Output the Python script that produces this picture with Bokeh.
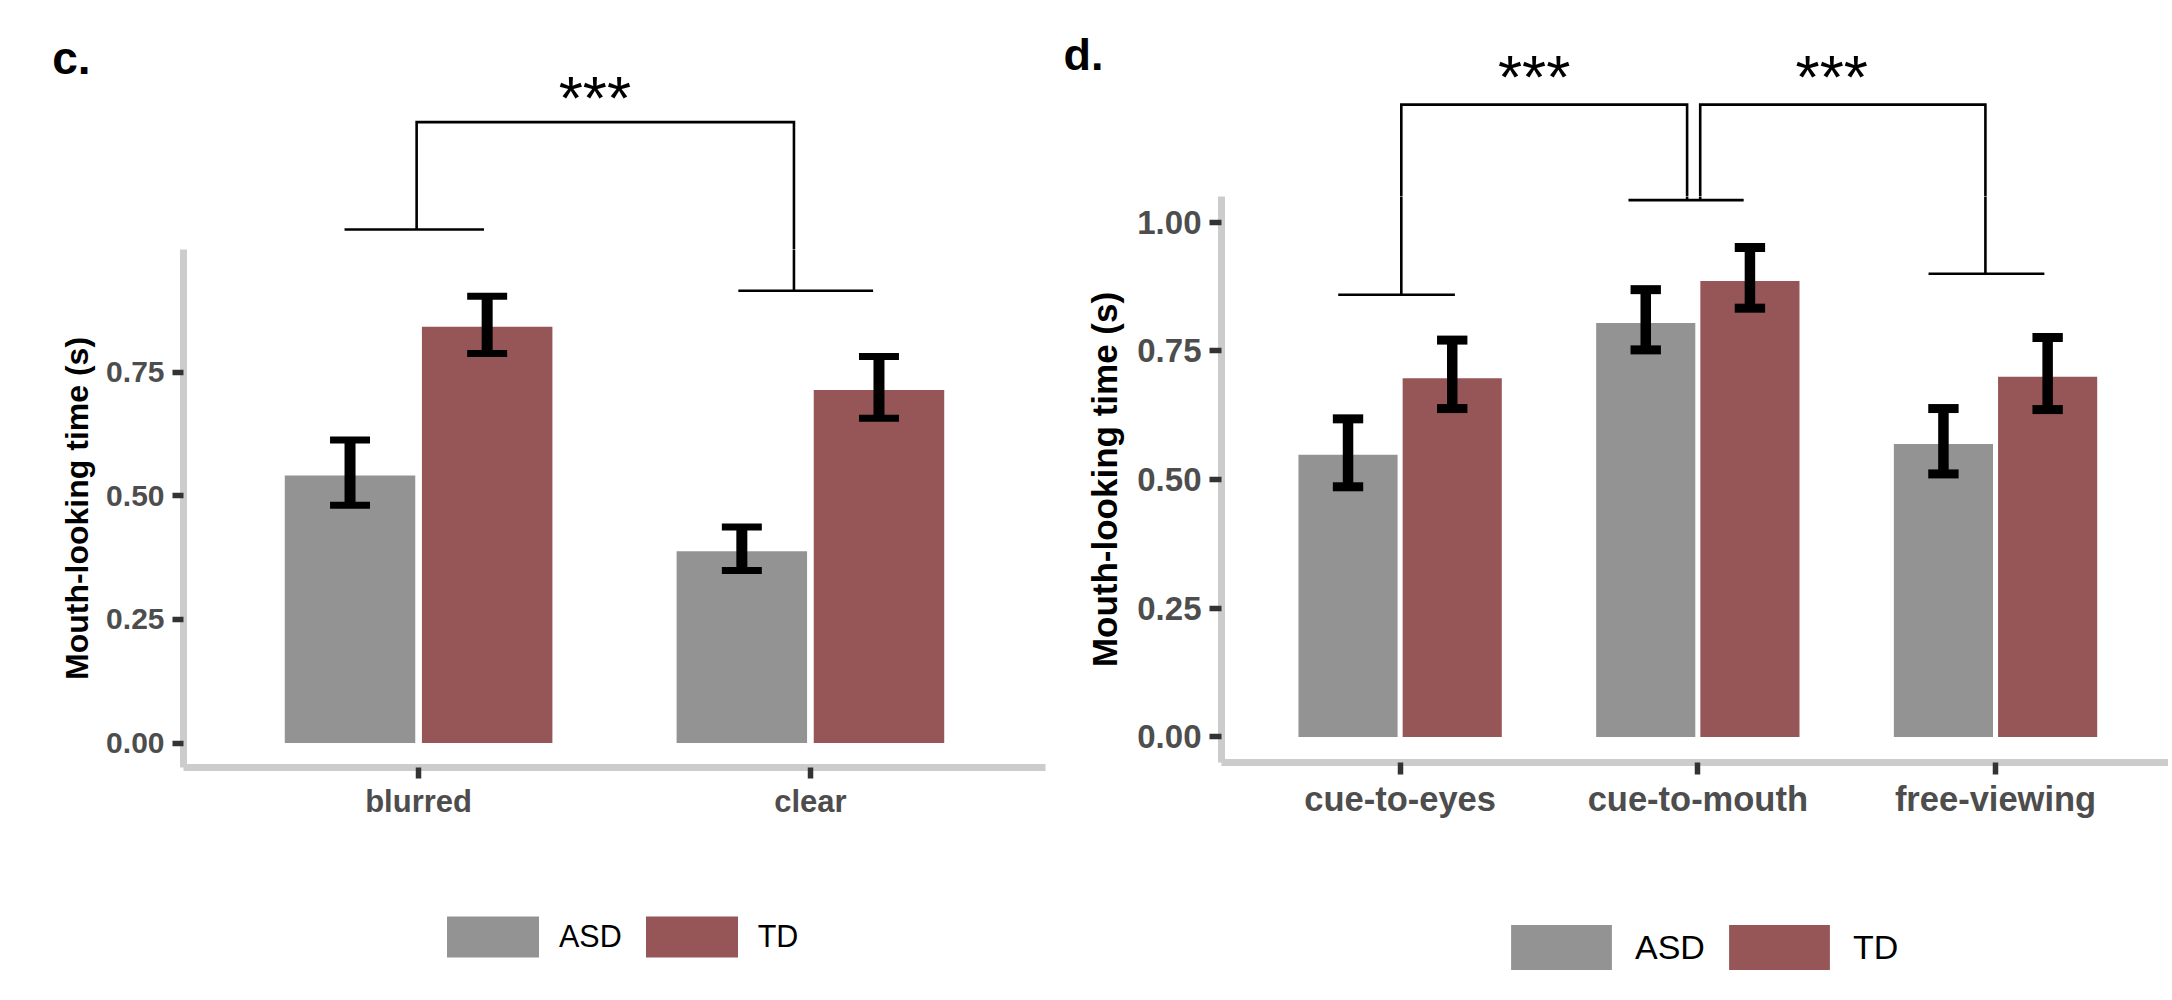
from bokeh.plotting import figure
from bokeh.models import (Range1d, FixedTicker, NumeralTickFormatter,
                          Legend, LegendItem, ColumnDataSource)
from bokeh.layouts import row, column
from bokeh.embed import file_html
from bokeh.resources import INLINE
from bokeh.core.properties import value

# ---------------- data ----------------
groups = ["ASD", "TD"]
group_colors = ["#939393", "#965557"]

c_conditions = ["blurred", "clear"]
c_asd_mean = [0.541, 0.388]
c_asd_lo = [0.481, 0.349]
c_asd_hi = [0.613, 0.437]
c_td_mean = [0.842, 0.714]
c_td_lo = [0.788, 0.657]
c_td_hi = [0.904, 0.782]

d_conditions = ["cue-to-eyes", "cue-to-mouth", "free-viewing"]
d_asd_mean = [0.548, 0.804, 0.569]
d_asd_lo = [0.486, 0.752, 0.511]
d_asd_hi = [0.618, 0.869, 0.638]
d_td_mean = [0.697, 0.886, 0.700]
d_td_lo = [0.638, 0.833, 0.636]
d_td_hi = [0.771, 0.951, 0.776]

c_ticks = [0.0, 0.25, 0.5, 0.75]
d_ticks = [0.0, 0.25, 0.5, 0.75, 1.0]
y_title = "Mouth-looking time (s)"
sig_label = "***"

FONT = "Liberation Sans"


def base_fig(cfg, height, yr, bt=0, bb=0, y_axis=None):
    p = figure(width=cfg["W"], height=height, title=None,
               x_range=Range1d(*cfg["xr"]), y_range=Range1d(*yr),
               output_backend="svg", toolbar_location=None,
               x_axis_type=None, y_axis_type=y_axis,
               min_border_left=cfg["bl"], min_border_right=cfg["br"],
               min_border_top=bt, min_border_bottom=bb)
    p.outline_line_color = None
    p.grid.visible = False
    return p


def draw_brackets(p, cfg):
    p.multi_line(xs=[b[0] for b in cfg["brackets"]],
                 ys=[b[1] for b in cfg["brackets"]],
                 line_color="black", line_width=2.6, line_join="miter")


def make_main(conditions, series, ticks, cfg):
    p = figure(width=cfg["W"], height=cfg["H"], title=None,
               x_range=Range1d(*cfg["xr"]), y_range=Range1d(*cfg["yr"]),
               output_backend="svg", toolbar_location=None,
               min_border_left=cfg["bl"], min_border_right=cfg["br"],
               min_border_top=0, min_border_bottom=cfg["bb"])
    p.outline_line_color = None
    p.grid.visible = False

    bw = 0.333
    off = 0.175
    for gi, (mean, lo, hi) in enumerate(series):
        xs = [i + 1 + (gi * 2 - 1) * off for i in range(len(conditions))]
        src = ColumnDataSource(dict(x=xs, top=mean, lo=lo, hi=hi,
                                    x0=[x - 0.051 for x in xs],
                                    x1=[x + 0.051 for x in xs]))
        p.vbar(x="x", top="top", bottom=0, width=bw, source=src,
               fill_color=group_colors[gi], line_color=None)
        p.segment(x0="x", y0="lo", x1="x", y1="hi", source=src,
                  line_color="black", line_width=cfg["ev"])
        p.segment(x0="x0", y0="lo", x1="x1", y1="lo", source=src,
                  line_color="black", line_width=cfg["ec"])
        p.segment(x0="x0", y0="hi", x1="x1", y1="hi", source=src,
                  line_color="black", line_width=cfg["ec"])

    draw_brackets(p, cfg)

    for ax in (p.xaxis[0], p.yaxis[0]):
        ax.axis_line_color = "#cccccc"
        ax.axis_line_width = 7
        ax.major_tick_line_color = "#333333"
        ax.major_tick_line_width = 5.5
        ax.major_tick_in = 0
        ax.major_tick_out = cfg["tick_out"]
        ax.minor_tick_line_color = None
        ax.major_label_text_font = FONT
        ax.major_label_text_font_style = "bold"
        ax.major_label_text_color = "#4d4d4d"
    p.yaxis.major_label_text_font_size = cfg["ytick_fs"]
    p.xaxis.major_label_text_font_size = cfg["xtick_fs"]
    p.yaxis.ticker = FixedTicker(ticks=ticks)
    p.yaxis.formatter = NumeralTickFormatter(format="0.00")
    p.yaxis.major_label_standoff = 8
    p.yaxis.axis_label = y_title
    p.yaxis.axis_label_text_font = FONT
    p.yaxis.axis_label_text_font_style = "bold"
    p.yaxis.axis_label_text_font_size = cfg["title_fs"]
    p.yaxis.axis_label_text_color = "black"
    p.yaxis.axis_label_standoff = cfg["title_stand"]
    p.xaxis.ticker = FixedTicker(ticks=[i + 1 for i in range(len(conditions))])
    p.xaxis.major_label_overrides = {i + 1: c for i, c in enumerate(conditions)}
    p.xaxis.major_label_standoff = cfg["xstand"]
    return p


def make_top(cfg):
    p = base_fig(cfg, cfg["Ht"], cfg["yr_top"], y_axis="linear")
    draw_brackets(p, cfg)
    for sx, sy in cfg["stars"]:
        p.text(x=[sx], y=[sy], text=[sig_label], text_align="center",
               text_baseline="alphabetic", text_font=value(FONT),
               text_font_size=value(cfg["star_fs"]), text_color="black")
    # panel letter, drawn as the only label of an otherwise hidden axis
    ax = p.yaxis[0]
    ax.axis_line_color = None
    ax.major_tick_line_color = None
    ax.minor_tick_line_color = None
    ax.major_tick_in = 0
    ax.major_tick_out = 0
    ax.ticker = FixedTicker(ticks=[cfg["letter_y"]])
    ax.major_label_overrides = {cfg["letter_y"]: cfg["letter"]}
    ax.major_label_standoff = cfg["letter_stand"]
    ax.major_label_text_font = FONT
    ax.major_label_text_font_style = "bold"
    ax.major_label_text_font_size = cfg["letter_fs"]
    ax.major_label_text_color = "black"
    return p


def make_legend(cfg):
    p = base_fig(cfg, cfg["Hl"], (0, 1))
    items = []
    for g, col in zip(groups, group_colors):
        # zero-height proxy bar: only its legend swatch is visible
        src = ColumnDataSource(dict(x=[1.0], top=[0.0], label=[g]))
        r = p.vbar(x="x", top="top", bottom=0, width=0.0, source=src,
                   fill_color=col, line_color=None)
        items.append(LegendItem(label=g, renderers=[r]))
    legend = Legend(items=items, location=cfg["leg_loc"],
                    orientation="horizontal",
                    glyph_width=cfg["gw"], glyph_height=cfg["gh"],
                    label_standoff=cfg["lstand"], spacing=cfg["lspace"],
                    padding=0, margin=0, border_line_color=None,
                    background_fill_alpha=0,
                    label_text_font=FONT, label_text_font_size=cfg["leg_fs"],
                    label_text_color="black")
    p.add_layout(legend)
    return p


cfg_c = dict(W=1056, Ht=249, H=588, Hl=159, bl=183, br=11, bb=70,
             xr=(0.4, 2.6), yr=(-0.0494, 0.9984), yr_top=(0.9984, 1.502),
             ev=11, ec=7, tick_out=11, ytick_fs="30px", xtick_fs="31px",
             title_fs="32px", title_stand=8, xstand=5,
             brackets=[([0.811, 1.167], [1.039, 1.039]),
                       ([0.995, 0.995, 1.958, 1.958], [1.039, 1.256, 1.256, 0.915]),
                       ([1.816, 2.160], [0.915, 0.915])],
             stars=[(1.45, 1.306)], star_fs="62px",
             letter="c.", letter_y=1.3865, letter_stand=93, letter_fs="46px",
             leg_loc=(252, 34), gw=115, gh=51, lstand=9, lspace=12,
             leg_fs="30.5px")

cfg_d = dict(W=1112, Ht=196, H=636, Hl=164, bl=165, br=0, bb=70,
             xr=(0.4, 3.581), yr=(-0.0497, 1.05), yr_top=(1.05, 1.4308),
             ev=10.5, ec=9, tick_out=12, ytick_fs="33px", xtick_fs="34.5px",
             title_fs="35px", title_stand=10, xstand=5,
             brackets=[([0.792, 1.184], [0.859, 0.859]),
                       ([1.004, 1.004, 1.964, 1.964], [0.859, 1.2285, 1.2285, 1.043]),
                       ([1.767, 2.154], [1.043, 1.043]),
                       ([2.008, 2.008, 2.966, 2.966], [1.043, 1.2285, 1.2285, 0.900]),
                       ([2.775, 3.164], [0.900, 0.900])],
             stars=[(1.45, 1.283), (2.45, 1.283)], star_fs="62px",
             letter="d.", letter_y=1.3268, letter_stand=118, letter_fs="45px",
             leg_loc=(277, 21), gw=126, gh=56, lstand=11, lspace=11,
             leg_fs="34px")

col_c = column(make_top(cfg_c),
               make_main(c_conditions,
                         [(c_asd_mean, c_asd_lo, c_asd_hi),
                          (c_td_mean, c_td_lo, c_td_hi)], c_ticks, cfg_c),
               make_legend(cfg_c), spacing=0)
col_d = column(make_top(cfg_d),
               make_main(d_conditions,
                         [(d_asd_mean, d_asd_lo, d_asd_hi),
                          (d_td_mean, d_td_lo, d_td_hi)], d_ticks, cfg_d),
               make_legend(cfg_d), spacing=0)

layout = row(col_c, col_d, spacing=0)
open("out.html", "w").write(file_html(layout, INLINE))
